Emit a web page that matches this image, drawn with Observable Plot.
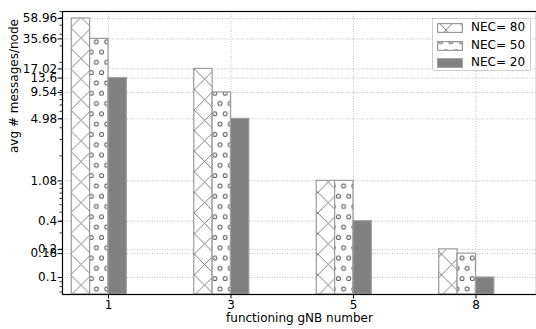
<!DOCTYPE html>
<html>
<head>
<meta charset="utf-8">
<script src="https://cdn.jsdelivr.net/npm/d3@7"></script>
<script src="https://cdn.jsdelivr.net/npm/@observablehq/plot@0.6"></script>
<style>
  html, body { margin: 0; padding: 0; background: #fff; }
  #wrap { position: relative; width: 536px; height: 329px; font-family: "DejaVu Sans", sans-serif; }
  #legend { position: absolute; left: 432px; top: 18px; width: 99px; height: 53px; background: rgba(255,255,255,0.85);
            border: 1px solid #cccccc; border-radius: 2px; box-sizing: border-box; font-size: 12px; color: #000; }
  .row { position: absolute; left: 4px; height: 10px; }
  .row svg { position: absolute; left: 0; top: 0; }
  .row span { position: absolute; left: 34px; top: -3px; white-space: nowrap; line-height: 14px; }
</style>
</head>
<body>
<div id="wrap"></div>
<script>
// ---- data ----
const groups = ["1", "3", "5", "8"];
const seriesNames = ["NEC= 80", "NEC= 50", "NEC= 20"];
const nec80 = [58.96, 17.02, 1.08, 0.2];
const nec50 = [35.66, 9.54, 1.08, 0.18];
const nec20 = [13.6, 4.98, 0.4, 0.1];
const yTickValues = [58.96, 35.66, 17.02, 13.6, 9.54, 4.98, 1.08, 0.4, 0.2, 0.18, 0.1];
const yTickLabels = ["58.96", "35.66", "17.02", "13.6", "9.54", "4.98", "1.08", "0.4", "0.2", "0.18", "0.1"];
const xLabel = "functioning gNB number";
const yLabel = "avg # messages/node";

// ---- layout/style ----
const barW = 0.15;
const yDomain = [0.0658, 70.05];
const xDomain = [-0.3755, 3.494];
const seriesStyle = [
  {fill: "url(#hatchX)", stroke: "#9a9a9a"},
  {fill: "url(#hatchO)", stroke: "#9a9a9a"},
  {fill: "#808080", stroke: "#a0a0a0"}
];
const allVals = [nec80, nec50, nec20];
const rows = [];
allVals.forEach((vals, s) => vals.forEach((v, i) => rows.push({
  s, group: groups[i], i, value: v,
  x1: i + (s - 2) * barW, x2: i + (s - 1) * barW
})));
const yTicks = yTickValues.map((v, k) => ({v, label: yTickLabels[k]}));
const xTicks = groups.map((g, i) => ({i, g}));
const minorTicks = d3.scaleLog().domain(yDomain).ticks();

const gridStyle = {stroke: "#b0b0b0", strokeOpacity: 1, strokeDasharray: "1,1.5", strokeWidth: 0.8};
const marks = [
  Plot.ruleY(yTicks, {y: "v", ...gridStyle}),
  Plot.ruleX(xTicks, {x: "i", ...gridStyle}),
];
seriesStyle.forEach((st, s) => {
  marks.push(Plot.rectY(rows.filter(r => r.s === s), {
    x1: "x1", x2: "x2", y1: yDomain[0], y2: "value",
    fill: st.fill, stroke: st.stroke, strokeWidth: 1.2
  }));
});
marks.push(
  // minor ticks
  Plot.ruleY(minorTicks, {y: d => d, x1: xDomain[0], x2: xDomain[0], insetLeft: -2.5, stroke: "#000", strokeWidth: 0.8}),
  // major ticks
  Plot.ruleY(yTicks, {y: "v", x1: xDomain[0], x2: xDomain[0], insetLeft: -4.5, stroke: "#000", strokeWidth: 1}),
  Plot.text(yTicks, {y: "v", x: xDomain[0], text: "label", textAnchor: "end", dx: -5.3, fontSize: 12, fill: "#000"}),
  Plot.ruleX(xTicks, {x: "i", y1: yDomain[0], y2: yDomain[0], insetBottom: -4.5, stroke: "#000", strokeWidth: 1}),
  Plot.text(xTicks, {x: "i", y: yDomain[0], text: "g", lineAnchor: "top", dy: 6, fontSize: 12, fill: "#000"}),
  Plot.frame({stroke: "#000", strokeWidth: 1.2}),
  Plot.text([xLabel], {frameAnchor: "bottom", dy: 27.5, fontSize: 12, fill: "#000"}),
  Plot.text([yLabel], {frameAnchor: "left", dx: -48, rotate: -90, fontSize: 12, fill: "#000"})
);

const chart = Plot.plot({
  width: 536,
  height: 329,
  marginLeft: 62,
  marginRight: 0,
  marginTop: 11,
  marginBottom: 35,
  style: {fontSize: "12px", fontFamily: "DejaVu Sans, sans-serif", color: "#000", background: "#fff"},
  x: {type: "linear", domain: xDomain, axis: null},
  y: {type: "log", domain: yDomain, axis: null},
  marks
});

// hatch patterns
const defs = d3.select(chart).insert("defs", ":first-child");
const p = 20.6;
const px = defs.append("pattern").attr("id", "hatchX").attr("patternUnits", "userSpaceOnUse")
  .attr("width", p).attr("height", p).attr("x", 8.9).attr("y", 7);
px.append("rect").attr("width", p).attr("height", p).attr("fill", "#fff");
px.append("path").attr("d", `M0,0L${p},${p}M0,${p}L${p},0M${-p/2},${p/2}L${p/2},${-p/2}M${p/2},${p*1.5}L${p*1.5},${p/2}M${-p/2},${p/2}L${p/2},${p*1.5}M${p/2},${-p/2}L${p*1.5},${p/2}`)
  .attr("stroke", "#6e6e6e").attr("stroke-width", 0.9).attr("fill", "none");
const q = 10.3;
const po = defs.append("pattern").attr("id", "hatchO").attr("patternUnits", "userSpaceOnUse")
  .attr("width", q).attr("height", 2 * q).attr("x", 3.7).attr("y", 0.5);
po.append("rect").attr("width", q).attr("height", 2 * q).attr("fill", "#fff");
[[0, 0], [q, 0], [0, 2 * q], [q, 2 * q], [q / 2, q]].forEach(([cx, cy]) =>
  po.append("circle").attr("cx", cx).attr("cy", cy).attr("r", 2)
    .attr("fill", "none").attr("stroke", "#5a5a5a").attr("stroke-width", 1));

const wrap = document.getElementById("wrap");
wrap.appendChild(chart);

// legend
const legend = document.createElement("div");
legend.id = "legend";
seriesNames.forEach((name, s) => {
  const row = document.createElement("div");
  row.className = "row";
  row.style.top = (4 + s * 17.5) + "px";
  row.innerHTML = `<svg width="26" height="10"><rect x="0.6" y="0.6" width="24.8" height="8.8" fill="${seriesStyle[s].fill}" stroke="${seriesStyle[s].stroke}" stroke-width="1.2"></rect></svg><span>${name}</span>`;
  legend.appendChild(row);
});
wrap.appendChild(legend);
</script>
</body>
</html>
